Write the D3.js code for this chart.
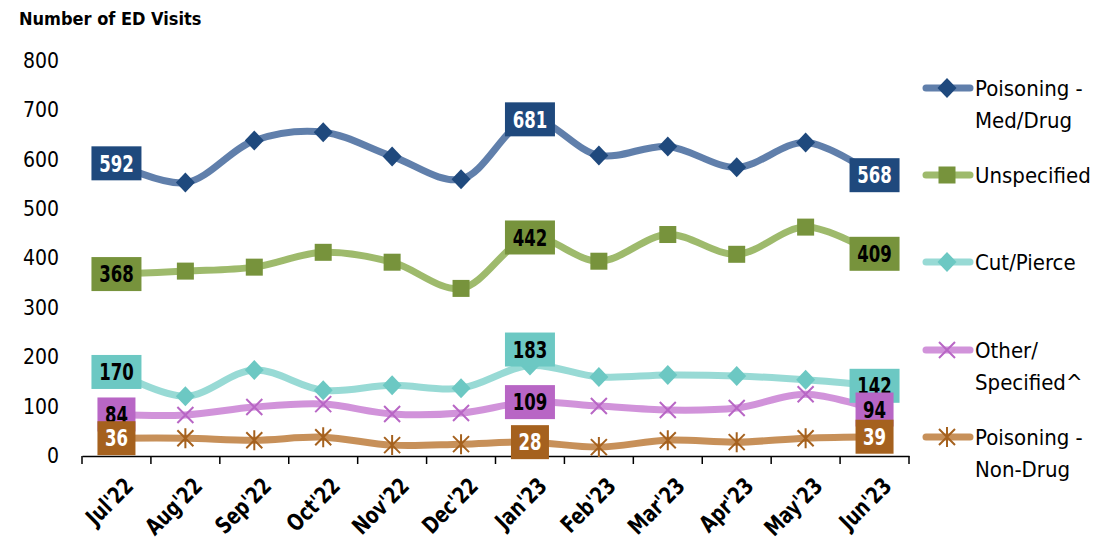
<!DOCTYPE html>
<html>
<head>
<meta charset="utf-8">
<script src="https://cdnjs.cloudflare.com/ajax/libs/d3/7.8.5/d3.min.js"></script>
<style>
  html, body { margin: 0; padding: 0; background: #fff; }
  svg { display: block; }
</style>
</head>
<body>
<svg id="chart" width="1110" height="539"></svg>
<script>
const categories = ["Jul'22","Aug'22","Sep'22","Oct'22","Nov'22","Dec'22","Jan'23","Feb'23","Mar'23","Apr'23","May'23","Jun'23"];
const medDrug        = [592, 553, 638, 655, 606, 560, 681, 608, 626, 584, 634, 568];
const unspecified    = [368, 374, 382, 412, 392, 339, 442, 394, 448, 408, 463, 409];
const cutPierce      = [170, 121, 174, 133, 143, 137, 183, 160, 164, 162, 154, 142];
const otherSpecified = [ 84,  83,  99, 105,  85,  87, 109, 101,  93,  97, 125,  94];
const nonDrug        = [ 36,  36,  32,  38,  22,  24,  28,  18,  32,  28,  36,  39];
const yTicks = [0, 100, 200, 300, 400, 500, 600, 700, 800];
const labelIndices = [0, 6, 11];
const seriesNames = [["Poisoning -", "Med/Drug"], ["Unspecified"], ["Cut/Pierce"], ["Other/", "Specified^"], ["Poisoning -", "Non-Drug"]];

const series = [
  {name: seriesNames[0], values: medDrug,        line: "#44699C", fill: "#1F497D", text: "#fff", marker: "diamond", legendY: 88},
  {name: seriesNames[1], values: unspecified,    line: "#8DAE52", fill: "#77933C", text: "#000", marker: "square",  legendY: 175},
  {name: seriesNames[2], values: cutPierce,      line: "#86D3CE", fill: "#6CC8C3", text: "#000", marker: "diamond", legendY: 262},
  {name: seriesNames[3], values: otherSpecified, line: "#C980D3", fill: "#B866C5", text: "#000", marker: "x",       legendY: 350},
  {name: seriesNames[4], values: nonDrug,        line: "#BD7C3C", fill: "#A5611E", text: "#fff", marker: "asterisk",legendY: 437}
];

const svg = d3.select("#chart");
const condensed = "'DejaVu Sans Condensed', 'DejaVu Sans', sans-serif";

const x = d3.scaleBand().domain(categories).range([82, 909]).padding(0);
const y = d3.scaleLinear().domain([0, 800]).range([456, 60.5]);
const cx = c => x(c) + x.bandwidth() / 2;

// Title
svg.append("text").attr("x", 19).attr("y", 25)
  .attr("font-family", condensed).attr("font-size", 18).attr("font-weight", "bold")
  .attr("fill", "#000").text("Number of ED Visits");

// Y axis labels (no line)
const yAxis = d3.axisLeft(y).tickValues(yTicks).tickSize(0).tickPadding(0);
const yg = svg.append("g").attr("transform", "translate(59,0)").call(yAxis);
yg.select(".domain").remove();
yg.selectAll("text").attr("font-family", condensed).attr("font-size", 21).attr("fill", "#000");

// X axis
const xAxis = d3.axisBottom(x).tickSize(0).tickSizeOuter(0).tickFormat("");
const xg = svg.append("g").attr("transform", "translate(0,456)").call(xAxis);
xg.select(".domain").attr("stroke", "#000").attr("stroke-width", 1.5);
const edges = categories.map(c => x(c)).concat([x.range()[1]]);
xg.selectAll(".edge").data(edges).enter().append("line")
  .attr("x1", d => d).attr("x2", d => d).attr("y1", 0).attr("y2", 8)
  .attr("stroke", "#000").attr("stroke-width", 1.5);
svg.append("g").selectAll("text").data(categories).enter().append("text")
  .attr("transform", d => `translate(${cx(d) + 7},${476}) rotate(-45) scale(0.86,1)`)
  .attr("text-anchor", "end").attr("dy", "0.7em")
  .attr("font-family", condensed).attr("font-size", 23).attr("font-weight", "bold")
  .attr("fill", "#000").text(d => d);

// Marker drawing
function drawMarker(g, type, color, px, py) {
  if (type === "diamond") {
    g.append("path").attr("d", `M${px},${py-10}L${px+9.5},${py}L${px},${py+10}L${px-9.5},${py}Z`)
      .attr("fill", color);
  } else if (type === "square") {
    g.append("rect").attr("x", px-8.5).attr("y", py-8.5).attr("width", 17).attr("height", 17)
      .attr("fill", color);
  } else if (type === "x") {
    g.append("path").attr("d", `M${px-8},${py-8}L${px+8},${py+8}M${px+8},${py-8}L${px-8},${py+8}`)
      .attr("stroke", color).attr("stroke-width", 2);
  } else if (type === "asterisk") {
    g.append("path").attr("d", `M${px-8},${py-8}L${px+8},${py+8}M${px+8},${py-8}L${px-8},${py+8}M${px},${py-10}L${px},${py+10}`)
      .attr("stroke", color).attr("stroke-width", 2);
  }
}

const line = d3.line()
  .x((d, i) => cx(categories[i]))
  .y(d => y(d))
  .curve(d3.curveCatmullRom.alpha(0.5));

const linesG = svg.append("g");
series.forEach(s => {
  const g = linesG.append("g");
  g.append("path").attr("d", line(s.values)).attr("fill", "none")
    .attr("stroke", s.line).attr("stroke-width", 7).attr("stroke-opacity", 0.85)
    .attr("stroke-linecap", "round").attr("stroke-linejoin", "round");
  s.values.forEach((v, i) => drawMarker(g, s.marker, s.fill, cx(categories[i]), y(v)));
});

// Data labels
const labelsG = svg.append("g");
series.forEach((s, si) => {
  labelIndices.forEach(i => {
    const v = s.values[i];
    let py = y(v);
    if (si === 2 && i === 6) py -= 16;
    const px = cx(categories[i]);
    const g = labelsG.append("g");
    const w = String(v).length === 3 ? 50 : 38;
    g.append("rect").attr("fill", s.fill)
      .attr("x", px - w / 2).attr("y", py - 17).attr("width", w).attr("height", 34);
    g.append("text").attr("transform", `translate(${px},${py}) scale(0.8,1)`)
      .attr("dy", "0.36em").attr("text-anchor", "middle")
      .attr("font-family", condensed).attr("font-size", 23)
      .attr("font-weight", "bold").attr("fill", s.text).text(v);
  });
});

// Legend
const legG = svg.append("g");
series.forEach(s => {
  const ly = s.legendY;
  legG.append("line").attr("x1", 926).attr("x2", 970).attr("y1", ly).attr("y2", ly)
    .attr("stroke", s.line).attr("stroke-width", 7).attr("stroke-linecap", "round").attr("stroke-opacity", 0.85);
  drawMarker(legG, s.marker, s.fill, 947, ly);
  const t = legG.append("text").attr("x", 975).attr("y", ly)
    .attr("font-family", condensed).attr("font-size", 22).attr("fill", "#000");
  s.name.forEach((n, k) => {
    t.append("tspan").attr("x", 975).attr("dy", k === 0 ? "0.36em" : "1.45em").text(n);
  });
});
</script>
</body>
</html>
